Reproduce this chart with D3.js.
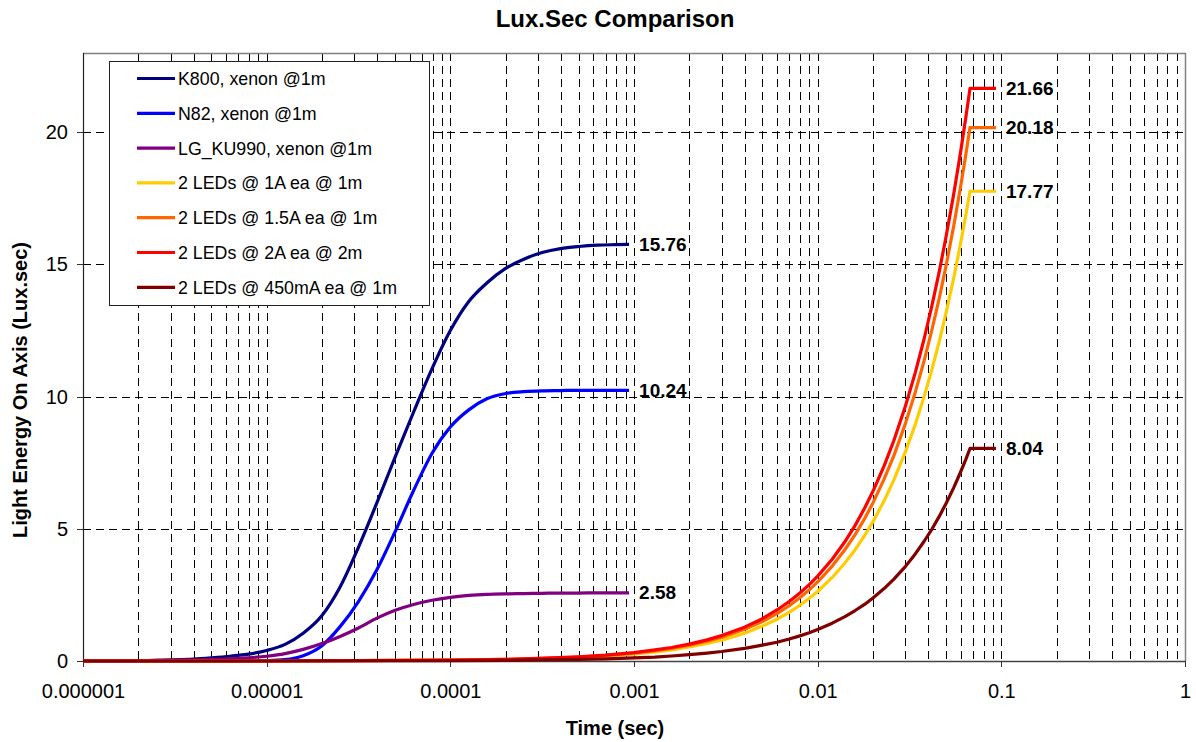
<!DOCTYPE html>
<html lang="en">
<head>
<meta charset="utf-8">
<title>Lux.Sec Comparison</title>
<script src="https://d3js.org/d3.v7.min.js"></script>
<style>
    body { margin: 0; background: white; }
    text { font-family: Arial, 'Liberation Sans', sans-serif; fill: #000; }
    .grid line { stroke: #000; stroke-width: 1; stroke-dasharray: 8,5; shape-rendering: crispEdges; }
    .axis .domain { display: none; }
    .axis line { stroke: #333; shape-rendering: crispEdges; }
    .axis text { font-size: 20px; }
    .series { fill: none; stroke-width: 3.2; stroke-linejoin: round; }
    .endlabel { font-size: 19px; font-weight: bold; }
</style>
</head>
<body>
<div id="container"></div>
<script>
// ---- data ----
var seriesNames = ["K800, xenon @1m", "N82, xenon @1m", "LG_KU990, xenon @1m",
                   "2 LEDs @ 1A ea @ 1m", "2 LEDs @ 1.5A ea @ 1m", "2 LEDs @ 2A ea @ 2m",
                   "2 LEDs @ 450mA ea @ 1m"];
var seriesColors = ["#000080", "#0000FF", "#800080", "#FFCC00", "#FF6600", "#FF0000", "#800000"];

// xenon flash time points (sec), 10 per decade
var xenonTime = [1e-6, 1.26e-6, 1.58e-6, 2e-6, 2.51e-6, 3.16e-6, 3.98e-6, 5.01e-6, 6.31e-6, 7.94e-6,
                 1e-5, 1.26e-5, 1.58e-5, 2e-5, 2.51e-5, 3.16e-5, 3.98e-5, 5.01e-5, 6.31e-5, 7.94e-5,
                 1e-4, 1.26e-4, 1.58e-4, 2e-4, 2.51e-4, 3.16e-4, 3.98e-4, 5.01e-4, 6.31e-4, 7.94e-4,
                 9.4e-4];
var k800 = [0, 0, 0.005, 0.01, 0.02, 0.04, 0.07, 0.12, 0.18, 0.26,
            0.40, 0.63, 1.05, 1.72, 2.80, 4.30, 5.98, 7.72, 9.42, 11.05,
            12.50, 13.60, 14.30, 14.85, 15.20, 15.45, 15.60, 15.68, 15.73, 15.75,
            15.76];
var n82 = [0, 0, 0, 0, 0, 0, 0, 0, 0, 0,
           0.01, 0.05, 0.20, 0.58, 1.30, 2.25, 3.45, 4.90, 6.45, 7.85,
           8.85, 9.50, 9.92, 10.12, 10.19, 10.22, 10.23, 10.24, 10.24, 10.24,
           10.24];
var lgku990 = [0, 0, 0.005, 0.01, 0.02, 0.03, 0.045, 0.06, 0.08, 0.12,
               0.18, 0.28, 0.44, 0.66, 0.93, 1.25, 1.62, 1.92, 2.14, 2.30,
               2.41, 2.48, 2.52, 2.54, 2.55, 2.56, 2.57, 2.57, 2.58, 2.58,
               2.58];

// LED time points (sec)
var ledTime = [1e-6, 1e-5, 1e-4, 2e-4, 3e-4, 5e-4, 7e-4, 0.001, 0.0013, 0.0016, 0.002, 0.0025,
               0.003, 0.004, 0.005, 0.006, 0.007, 0.008, 0.009, 0.01, 0.012, 0.014, 0.016, 0.018,
               0.02, 0.023, 0.026, 0.03, 0.034, 0.038, 0.042, 0.046, 0.05, 0.055, 0.06, 0.064,
               0.0675, 0.0935];
var led1A = [0, 0, 0.03, 0.05, 0.08, 0.13, 0.18, 0.26, 0.34, 0.42, 0.53, 0.66,
             0.79, 1.05, 1.32, 1.58, 1.84, 2.11, 2.37, 2.63, 3.16, 3.69, 4.21, 4.74,
             5.27, 6.06, 6.85, 7.90, 8.95, 10.01, 11.06, 12.11, 13.17, 14.48, 15.80, 16.85,
             17.77, 17.77];
var led15A = [0, 0, 0.03, 0.06, 0.09, 0.15, 0.21, 0.30, 0.39, 0.48, 0.60, 0.75,
              0.90, 1.20, 1.49, 1.79, 2.09, 2.39, 2.69, 2.99, 3.59, 4.19, 4.78, 5.38,
              5.98, 6.88, 7.77, 8.97, 10.17, 11.36, 12.56, 13.75, 14.95, 16.44, 17.94, 19.13,
              20.18, 20.18];
var led2A = [0, 0, 0.03, 0.06, 0.10, 0.16, 0.22, 0.32, 0.42, 0.51, 0.64, 0.80,
             0.96, 1.28, 1.60, 1.93, 2.25, 2.57, 2.89, 3.21, 3.85, 4.49, 5.13, 5.78,
             6.42, 7.38, 8.34, 9.63, 10.91, 12.19, 13.48, 14.76, 16.05, 17.65, 19.25, 20.54,
             21.66, 21.66];
var led450mA = [0, 0, 0.01, 0.02, 0.04, 0.06, 0.08, 0.12, 0.15, 0.19, 0.24, 0.30,
                0.36, 0.48, 0.60, 0.71, 0.83, 0.95, 1.07, 1.19, 1.43, 1.67, 1.91, 2.14,
                2.38, 2.74, 3.10, 3.57, 4.05, 4.53, 5.00, 5.48, 5.96, 6.55, 7.15, 7.62,
                8.04, 8.04];

var xTickValues = [1e-6, 1e-5, 1e-4, 1e-3, 1e-2, 1e-1, 1];
var xTickLabels = ["0.000001", "0.00001", "0.0001", "0.001", "0.01", "0.1", "1"];
var yTickValues = [0, 5, 10, 15, 20];

var w = 1196, h = 742;
var plotLeft = 83, plotRight = 1185, plotTop = 53, plotBottom = 661;

var svg = d3.select("div#container")
            .append("svg")
            .attr("width", w)
            .attr("height", h)
            .style("background-color", "white");

var x = d3.scaleLog().domain([1e-6, 1]).range([plotLeft, plotRight]);
var y = d3.scaleLinear().domain([0, 23]).range([plotBottom, plotTop]);

// ---- gridlines ----
var minor = [];
for (var k = -6; k < 0; k++) {
    for (var m = 1; m < 10; m++) {
        if (k === -6 && m === 1) continue;
        minor.push(+(m + "e" + k));
    }
}
svg.append("g").attr("class", "grid")
    .selectAll("line")
    .data(minor)
    .enter().append("line")
    .attr("x1", function(d) { return Math.round(x(d)) + 0.5; })
    .attr("x2", function(d) { return Math.round(x(d)) + 0.5; })
    .attr("y1", plotTop)
    .attr("y2", plotBottom);

svg.append("g").attr("class", "grid")
    .selectAll("line")
    .data(yTickValues.slice(1))
    .enter().append("line")
    .attr("x1", plotLeft)
    .attr("x2", plotRight)
    .attr("y1", function(d) { return Math.round(y(d)) + 0.5; })
    .attr("y2", function(d) { return Math.round(y(d)) + 0.5; });

// plot frame: grey top / right, dark left / bottom
svg.append("path")
    .attr("d", "M" + plotLeft + "," + (plotTop + 0.5) + "H" + (plotRight + 0.5) + "V" + plotBottom)
    .attr("fill", "none").attr("stroke", "#808080").attr("stroke-width", 1.5);
svg.append("line")
    .attr("x1", plotLeft + 0.5).attr("x2", plotLeft + 0.5)
    .attr("y1", plotTop).attr("y2", plotBottom + 0.5)
    .attr("stroke", "#222").attr("stroke-width", 1.2);
svg.append("line")
    .attr("x1", plotLeft).attr("x2", plotRight + 1)
    .attr("y1", plotBottom + 0.5).attr("y2", plotBottom + 0.5)
    .attr("stroke", "#444").attr("stroke-width", 1.5);

// ---- axes ----
svg.append("g").attr("class", "axis")
    .attr("transform", "translate(0," + plotBottom + ")")
    .call(d3.axisBottom(x).tickValues(xTickValues)
            .tickFormat(function(d, i) { return xTickLabels[i]; })
            .tickSize(6).tickPadding(17));

svg.append("g").attr("class", "axis")
    .attr("transform", "translate(" + plotLeft + ",0)")
    .call(d3.axisLeft(y).tickValues(yTickValues).tickSize(6).tickPadding(9));

// ---- titles ----
svg.append("text")
    .attr("x", 615).attr("y", 27)
    .attr("text-anchor", "middle")
    .style("font-size", "24px").style("font-weight", "bold")
    .text("Lux.Sec Comparison");

svg.append("text")
    .attr("x", 615).attr("y", 735)
    .attr("text-anchor", "middle")
    .style("font-size", "20px").style("font-weight", "bold")
    .text("Time (sec)");

svg.append("text")
    .attr("transform", "translate(27,390) rotate(-90)")
    .attr("text-anchor", "middle")
    .style("font-size", "20px").style("font-weight", "bold")
    .text("Light Energy On Axis (Lux.sec)");

// ---- series ----
var seriesData = [
    { time: xenonTime, vals: k800, smooth: true },
    { time: xenonTime, vals: n82, smooth: true },
    { time: xenonTime, vals: lgku990, smooth: true },
    { time: ledTime, vals: led1A, smooth: false },
    { time: ledTime, vals: led15A, smooth: false },
    { time: ledTime, vals: led2A, smooth: false },
    { time: ledTime, vals: led450mA, smooth: false }
];

seriesData.forEach(function(s, i) {
    var pts = s.time.map(function(t, j) { return [t, s.vals[j]]; });
    var line = d3.line()
        .x(function(d) { return x(d[0]); })
        .y(function(d) { return y(d[1]); })
        .curve(s.smooth ? d3.curveMonotoneX : d3.curveLinear);
    svg.append("path")
        .datum(pts)
        .attr("class", "series")
        .attr("stroke", seriesColors[i])
        .attr("d", line);
});

// end value labels
seriesData.forEach(function(s) {
    var n = s.time.length - 1;
    svg.append("text")
        .attr("class", "endlabel")
        .attr("x", x(s.time[n]) + 10)
        .attr("y", y(s.vals[n]))
        .attr("dy", "0.35em")
        .text(s.vals[n].toFixed(2));
});

// ---- legend ----
var legend = svg.append("g").attr("transform", "translate(109,61)");
legend.append("rect")
    .attr("x", 0.5).attr("y", 0.5)
    .attr("width", 320).attr("height", 244)
    .attr("fill", "white").attr("stroke", "#222").attr("stroke-width", 1);

var item = legend.selectAll("g.item")
    .data(seriesNames)
    .enter().append("g")
    .attr("class", "item")
    .attr("transform", function(d, i) { return "translate(0," + (17.5 + i * 34.8) + ")"; });
item.append("line")
    .attr("x1", 28).attr("x2", 66)
    .attr("stroke", function(d, i) { return seriesColors[i]; })
    .attr("stroke-width", 3.2);
item.append("text")
    .attr("x", 69).attr("dy", "0.36em")
    .style("font-size", "17.8px")
    .text(function(d) { return d; });
</script>
</body>
</html>
